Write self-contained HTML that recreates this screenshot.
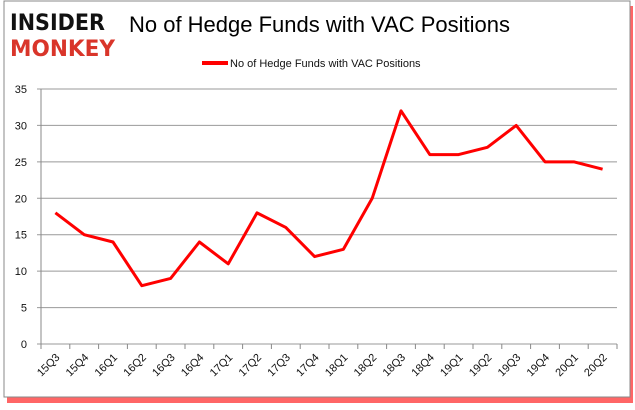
<!DOCTYPE html>
<html><head><meta charset="utf-8"><style>
body{margin:0;background:#fff;width:635px;height:405px;overflow:hidden;font-family:"Liberation Sans",sans-serif}
</style></head><body>
<svg width="635" height="405">
<rect x="7" y="6" width="626" height="397" fill="#f00" opacity="0.6"/>
<rect x="4" y="1" width="626" height="396" fill="#fff" stroke="#888"/>
<g font-weight="bold" font-family="'DejaVu Sans',sans-serif">
<text x="10" y="30" font-size="22" fill="#111" textLength="95" lengthAdjust="spacingAndGlyphs">INSIDER</text>
<text x="10" y="56" font-size="22" fill="#d9352a" textLength="105" lengthAdjust="spacingAndGlyphs">MONKEY</text>
</g>
<text x="129" y="32" font-size="22" fill="#000" textLength="381" lengthAdjust="spacingAndGlyphs">No of Hedge Funds with VAC Positions</text>
<line x1="202" y1="63" x2="228" y2="63" stroke="#f00" stroke-width="4"/>
<text x="230" y="67" font-size="11" fill="#111">No of Hedge Funds with VAC Positions</text>
<g id="grid"></g><g id="axes"></g><g id="series"></g>
</svg>
<script>
const categories=["15Q3","15Q4","16Q1","16Q2","16Q3","16Q4","17Q1","17Q2","17Q3","17Q4","18Q1","18Q2","18Q3","18Q4","19Q1","19Q2","19Q3","19Q4","20Q1","20Q2"];
const values=[18,15,14,8,9,14,11,18,16,12,13,20,32,26,26,27,30,25,25,24];
const yTicks=[0,5,10,15,20,25,30,35];
const NS="http://www.w3.org/2000/svg";
const L=41,R=617,T=89,B=344,yMax=35;
const cw=(R-L)/categories.length;
const x=i=>L+cw*(i+0.5);
const y=v=>B-(v/yMax)*(B-T);
function mk(t,a,p){const e=document.createElementNS(NS,t);for(const k in a)e.setAttribute(k,a[k]);p.appendChild(e);return e;}
const grid=document.getElementById('grid'),axes=document.getElementById('axes'),series=document.getElementById('series');
yTicks.forEach(v=>{
 const g=mk('line',{x1:L-4,x2:R,y1:y(v),y2:y(v),stroke:'#999'},grid);
 
 
 const t=mk('text',{x:27,y:y(v)+4,'font-size':11,'text-anchor':'end',fill:'#111'},axes);
 t.textContent=v;
 
 
});
const ax=mk('line',{x1:L,x2:L,y1:T,y2:B,stroke:'#888'},axes);


for(let i=0;i<=categories.length;i++){
 const tk=mk('line',{x1:L+cw*i,x2:L+cw*i,y1:B,y2:B+5,stroke:'#888'},axes);
 
 
}
categories.forEach((c,i)=>{
 const t=mk('text',{x:x(i)+5,y:B+14,'font-size':11,'text-anchor':'end',fill:'#111',transform:`rotate(-45 ${x(i)+5} ${B+14})`},axes);
 t.textContent=c;
 
 
});
const pl=mk('polyline',{points:values.map((v,i)=>x(i)+','+y(v)).join(' '),fill:'none',stroke:'#f00','stroke-width':3,'stroke-linejoin':'round'},series);


</script>
</body></html>
